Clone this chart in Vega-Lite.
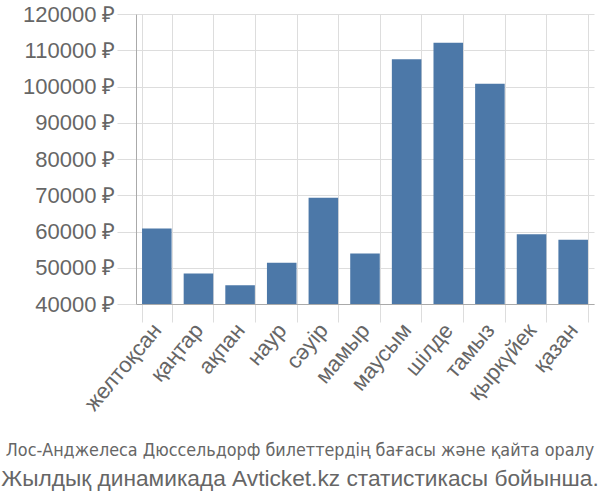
{
  "$schema": "https://vega.github.io/schema/vega-lite/v6.json",
  "width": 458,
  "height": 290,
  "autosize": {"type": "none"},
  "padding": {"left": 136, "top": 14, "right": 6, "bottom": 196},
  "background": "white",
  "data": {"values": [
    {"month": "желтоқсан", "price": 60800},
    {"month": "қаңтар", "price": 48400},
    {"month": "ақпан", "price": 45200},
    {"month": "наур", "price": 51400},
    {"month": "сәуір", "price": 69300},
    {"month": "мамыр", "price": 53900},
    {"month": "маусым", "price": 107500},
    {"month": "шілде", "price": 112100},
    {"month": "тамыз", "price": 100750},
    {"month": "қыркүйек", "price": 59250},
    {"month": "қазан", "price": 57700}
  ]},
  "title": {
    "text": "Лос-Анджелеса Дюссельдорф билеттердің бағасы және қайта оралу",
    "subtitle": "Жылдық динамикада Avticket.kz статистикасы бойынша.",
    "orient": "bottom",
    "anchor": "middle",
    "offset": 28,
    "dx": -65,
    "font": "DejaVu Sans Condensed",
    "fontSize": 17.8,
    "fontWeight": "normal",
    "color": "#666666",
    "subtitleFont": "Liberation Sans",
    "subtitleFontSize": 22.7,
    "subtitleColor": "#666666",
    "subtitlePadding": 8
  },
  "config": {
    "view": {"stroke": null},
    "axis": {"gridColor": "#dddddd", "labelColor": "#666666", "labelFont": "Liberation Sans", "labelFontSize": 22}
  },
  "mark": {"type": "bar", "color": "#4c78a8", "clip": true},
  "encoding": {
    "x": {
      "field": "month", "type": "nominal", "sort": null,
      "scale": {"paddingInner": 0.29, "paddingOuter": 0.145},
      "axis": {"title": null, "labelAngle": -50, "grid": true, "tickBand": "extent", "tickSize": 18, "tickColor": "#dddddd", "domainColor": "#aaaaaa", "labelPadding": 4}
    },
    "y": {
      "field": "price", "type": "quantitative",
      "scale": {"domain": [40000, 120000], "zero": false},
      "axis": {"title": null, "tickCount": 8, "labelExpr": "datum.value + ' ₽'", "tickSize": 19, "tickColor": "#dddddd", "domainColor": "#aaaaaa", "labelPadding": 2}
    }
  }
}
